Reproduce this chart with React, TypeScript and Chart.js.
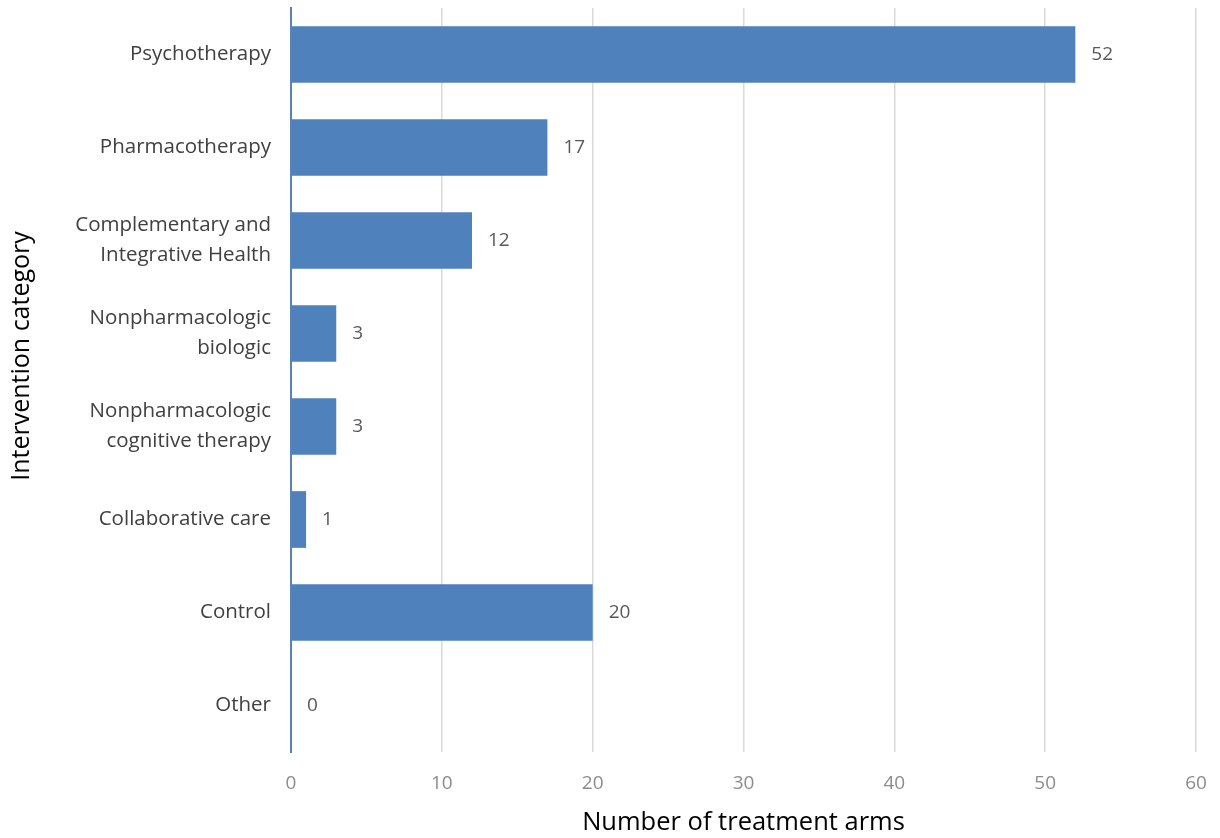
import React, { useEffect, useRef } from "react";
import { Chart, registerables } from "chart.js";

Chart.register(...registerables);

const categories: (string | string[])[] = [
  "Psychotherapy",
  "Pharmacotherapy",
  ["Complementary and", "Integrative Health"],
  ["Nonpharmacologic", "biologic"],
  ["Nonpharmacologic", "cognitive therapy"],
  "Collaborative care",
  "Control",
  "Other",
];
const treatmentArms = [52, 17, 12, 3, 3, 1, 20, 0];
const xMin = 0;
const xMax = 60;
const xStep = 10;
const yTitle = "Intervention category";
const xTitle = "Number of treatment arms";

const FONT = "'Open Sans', 'Noto Sans', sans-serif";

const valueLabels = {
  id: "valueLabels",
  afterDatasetsDraw(chart: any) {
    const ctx = chart.ctx;
    const meta = chart.getDatasetMeta(0);
    ctx.save();
    ctx.font = `19px ${FONT}`;
    ctx.fillStyle = "#595959";
    ctx.textAlign = "left";
    ctx.textBaseline = "middle";
    meta.data.forEach((bar: any, i: number) => {
      ctx.fillText(String(treatmentArms[i]), bar.x + 16, bar.y);
    });
    ctx.restore();
  },
};

const yTitlePlugin = {
  id: "yTitlePlugin",
  afterDraw(chart: any) {
    const ctx = chart.ctx;
    const area = chart.chartArea;
    ctx.save();
    ctx.font = `25px ${FONT}`;
    ctx.fillStyle = "#000000";
    ctx.textAlign = "center";
    ctx.textBaseline = "middle";
    ctx.translate(22, (area.top + area.bottom) / 2 - 24);
    ctx.rotate(-Math.PI / 2);
    ctx.fillText(yTitle, 0, 0);
    ctx.restore();
  },
};

export default function App() {
  const ref = useRef<HTMLCanvasElement>(null);
  useEffect(() => {
    if (!ref.current) return;
    const chart = new Chart(ref.current, {
      type: "bar",
      data: {
        labels: categories,
        datasets: [
          {
            data: treatmentArms,
            backgroundColor: "#4f81bd",
            barPercentage: 0.61,
            categoryPercentage: 1,
          },
        ],
      },
      options: {
        indexAxis: "y",
        animation: false,
        responsive: false,
        layout: { padding: { top: 8, right: 24, left: 0, bottom: 0 } },
        plugins: { legend: { display: false }, tooltip: { enabled: false } },
        scales: {
          x: {
            min: xMin,
            max: xMax,
            ticks: {
              stepSize: xStep,
              color: "#8c8c8c",
              font: { family: FONT, size: 19 },
              padding: 20,
            },
            grid: { color: "#d9d9d9", lineWidth: 1.5, drawTicks: false },
            border: { display: false },
            title: {
              display: true,
              text: xTitle,
              color: "#000000",
              font: { family: FONT, size: 25.5 },
              padding: { top: 4, bottom: 0 },
            },
            afterFit: (scale: any) => {
              scale.height = 86;
              scale.paddingLeft = 0;
              scale.paddingRight = 0;
            },
          },
          y: {
            ticks: {
              color: "#404040",
              font: { family: FONT, size: 20.5, lineHeight: 1.45 },
              padding: 20,
            },
            grid: { display: false, drawTicks: false },
            border: { display: true, color: "#5b82b5", width: 2 },
            title: { display: false },
            afterFit: (scale: any) => {
              scale.width = 291;
              scale.paddingTop = 0;
              scale.paddingBottom = 0;
            },
          },
        },
      },
      plugins: [valueLabels, yTitlePlugin],
    });
    return () => chart.destroy();
  }, []);
  return (
    <div style={{ position: "fixed", left: 0, top: 0, width: 1220, height: 838, background: "#fff" }}>
      <canvas ref={ref} width={1220} height={838} style={{ display: "block" }} />
    </div>
  );
}
